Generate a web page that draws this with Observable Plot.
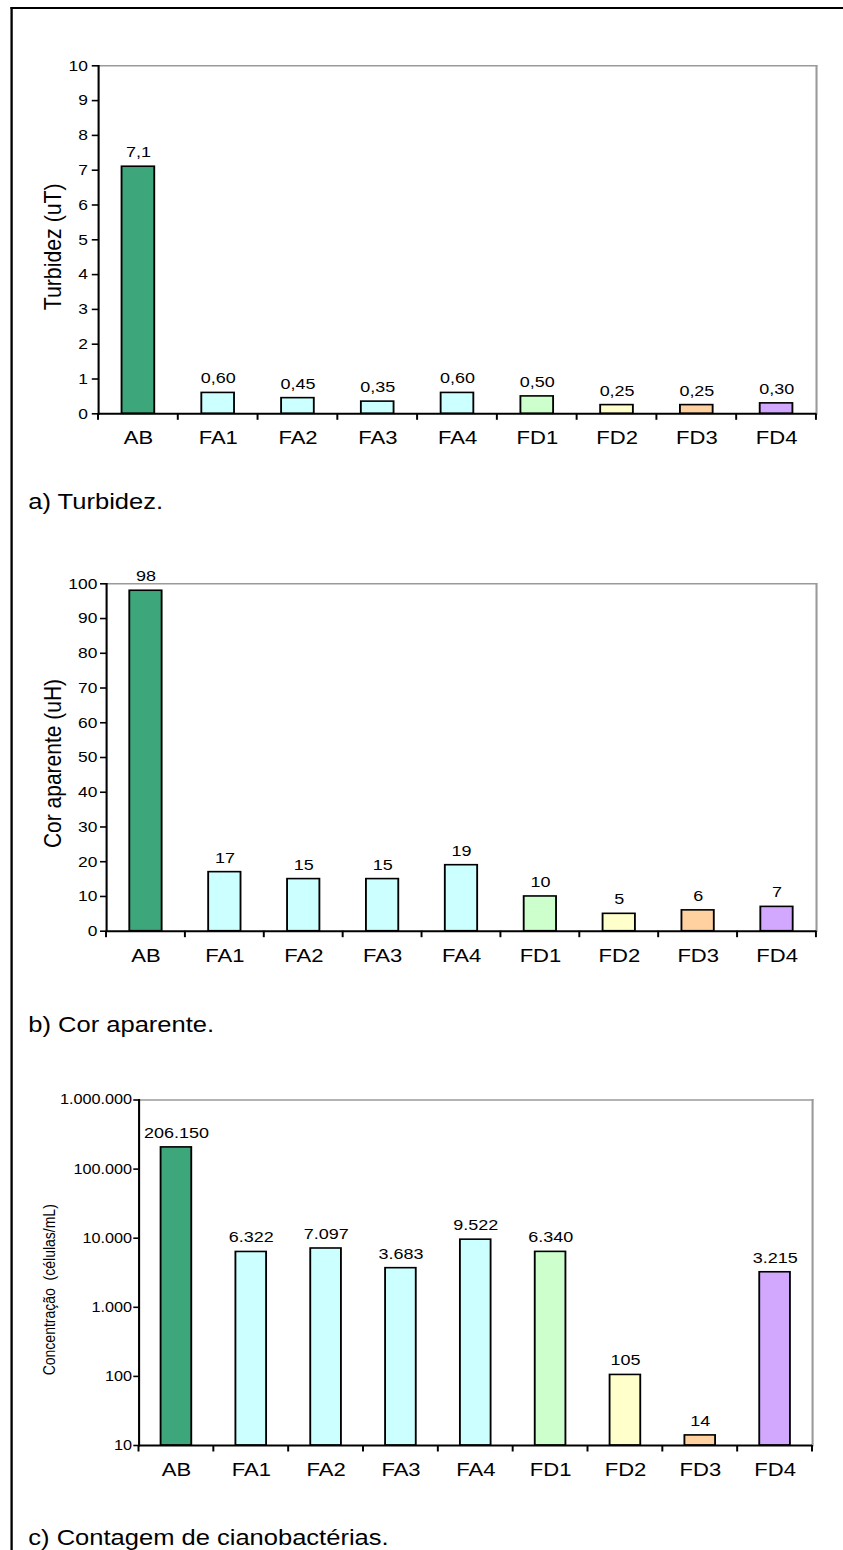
<!DOCTYPE html>
<html><head><meta charset="utf-8">
<script src="https://cdn.jsdelivr.net/npm/d3@7"></script>
<script src="https://cdn.jsdelivr.net/npm/@observablehq/plot@0.6"></script>
<style>
html,body{margin:0;padding:0;background:#fff;}
#page{position:relative;width:727px;height:1550px;transform:scaleX(1.16);transform-origin:0 0;font-family:"Liberation Sans",Arial,sans-serif;overflow:hidden;background:#fff}
.chart{position:absolute;left:0}
.cap{position:absolute;left:24.4px;font-size:22px;line-height:1;white-space:nowrap;color:#000}
#frame{position:absolute;left:8.6px;top:6.5px;width:2000px;height:3000px;border-left:2.2px solid #000;border-top:2.5px solid #000}
</style></head>
<body><div id="page"><div id="frame"></div></div>
<script>
// ---- data ----
const categories = ["AB","FA1","FA2","FA3","FA4","FD1","FD2","FD3","FD4"];
const barColors = ["#3da67a","#ccffff","#ccffff","#ccffff","#ccffff","#ccffcc","#ffffcc","#ffd1a0","#d2a8ff"];
const turbidez = [7.1,0.60,0.45,0.35,0.60,0.50,0.25,0.25,0.30];
const turbidezLabels = ["7,1","0,60","0,45","0,35","0,60","0,50","0,25","0,25","0,30"];
const corAparente = [98,17,15,15,19,10,5,6,7];
const cianobacterias = [206150,6322,7097,3683,9522,6340,105,14,3215];
const ticksTurbidez = [0,1,2,3,4,5,6,7,8,9,10];
const ticksCor = [0,10,20,30,40,50,60,70,80,90,100];
const ticksCiano = [10,100,1000,10000,100000,1000000];
const captions = ["a) Turbidez.","b) Cor aparente.","c) Contagem de cianobactérias."];
const titles = ["Turbidez (uT)","Cor aparente (uH)","Concentração  (células/mL)"];

const ptBR = d3.formatLocale({decimal:",", thousands:".", grouping:[3], currency:["",""]});
const fmtInt = ptBR.format(",d");

const page = document.getElementById("page");
const W = 727;

function boundaryTicks(cats, base, len) {
  return (index, scales) => {
    const x = scales.x, y = scales.y;
    const step = x.step(), bw = x.bandwidth();
    const g = d3.create("svg:g").attr("stroke","#000").attr("stroke-width",1.7);
    const y0 = y(base);
    const xs = cats.map(c => x(c) - (step - bw) / 2);
    xs.push(x(cats[cats.length - 1]) + bw + (step - bw) / 2);
    for (const xx of xs) g.append("line").attr("x1",xx).attr("x2",xx).attr("y1",y0).attr("y2",y0 + len);
    return g.node();
  };
}

function makeChart(o) {
  const data = categories.map((c, i) => ({cat: c, v: o.values[i], label: o.labels[i]}));
  const base = o.yTicks[0];
  const plot = Plot.plot({
    width: W, height: o.height,
    marginTop: o.mt, marginBottom: o.mb, marginLeft: o.ml, marginRight: o.mr,
    style: {fontFamily: '"Liberation Sans", Arial, sans-serif', fontSize: "15px", color: "#000", background: "transparent", overflow: "visible"},
    x: {domain: categories, paddingInner: 0.59, paddingOuter: 0.295, round: false},
    y: {type: o.yType, domain: [o.yTicks[0], o.yTicks[o.yTicks.length - 1]]},
    color: {domain: categories, range: barColors},
    marks: [
      Plot.frame({anchor: "top", stroke: "#9a9a9a", strokeWidth: 1.4}),
      Plot.frame({anchor: "right", stroke: "#9a9a9a", strokeWidth: 1.8}),
      Plot.barY(data, {x: "cat", y1: base, y2: "v", fill: "cat", stroke: "#000", strokeWidth: 1.6}),
      Plot.ruleY([base], {stroke: "#000", strokeWidth: 2}),
      Plot.frame({anchor: "left", stroke: "#000", strokeWidth: 1.8}),
      Plot.axisY({ticks: o.yTicks, tickFormat: o.yFormat, tickSize: o.tickSize, tickPadding: o.tickPadding, fontSize: o.tickFont, label: null, strokeWidth: 1.6}),
      Plot.axisX({tickSize: 0, tickPadding: 17, fontSize: 19, label: null}),
      boundaryTicks(categories, base, 6.5),
      Plot.text(data, {x: "cat", y: "v", text: "label", dy: -9.5, lineAnchor: "bottom", fontSize: 15.5, fill: "#000"}),
      Plot.text([o.title], {text: d => d, frameAnchor: "left", textAnchor: "middle", lineAnchor: "middle", rotate: -90, dx: o.titleDx, dy: o.titleDy, fontSize: o.titleSize, fill: "#000"})
    ]
  });
  plot.classList.add("chart");
  plot.style.top = o.top + "px";
  page.appendChild(plot);
}

makeChart({values: turbidez, labels: turbidezLabels, yTicks: ticksTurbidez, yType: "linear", yFormat: d => String(d),
  title: titles[0], titleSize: 21.3, tickSize: 5.4, tickPadding: 3.8, tickFont: 15,
  top: 0, height: 470, mt: 65.3, mb: 56.7, ml: 84.5, mr: 23.6, titleDx: -39.2, titleDy: 7});

makeChart({values: corAparente, labels: corAparente.map(String), yTicks: ticksCor, yType: "linear", yFormat: d => String(d),
  title: titles[1], titleSize: 21, tickSize: 5.2, tickPadding: 2.8, tickFont: 15,
  top: 530, height: 470, mt: 53.3, mb: 69.3, ml: 91.4, mr: 23.6, titleDx: -46.1, titleDy: 6});

makeChart({values: cianobacterias, labels: cianobacterias.map(fmtInt), yTicks: ticksCiano, yType: "log", yFormat: fmtInt,
  title: titles[2], titleSize: 14, tickSize: 4.5, tickPadding: 1.5, tickFont: 14,
  top: 1050, height: 450, mt: 49.5, mb: 55, ml: 119.4, mr: 27, titleDx: -77.2, titleDy: 17});

const capTops = [491, 1014, 1527];
captions.forEach((t, i) => {
  const d = document.createElement("div");
  d.className = "cap";
  d.style.top = capTops[i] + "px";
  d.textContent = t;
  page.appendChild(d);
});
</script></body></html>
